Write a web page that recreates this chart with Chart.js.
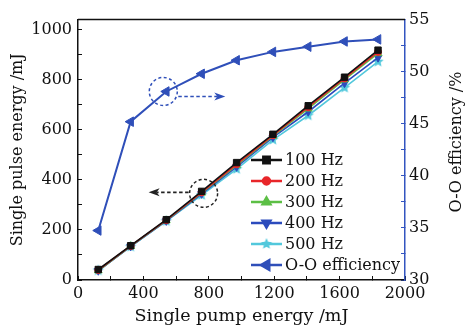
<!DOCTYPE html>
<html>
<head>
<meta charset="utf-8">
<script src="https://cdn.jsdelivr.net/npm/chart.js@4.4.1/dist/chart.umd.min.js"></script>
<style>
  body { margin: 0; background: #fff; }
  #wrap { width: 466px; height: 333px; }
</style>
</head>
<body>
<div id="wrap"><canvas id="chart"></canvas></div>
<script>
const pumpEnergy = [124, 322, 540, 756, 970, 1192, 1408, 1630, 1835];
const hz100 = [42, 137, 241, 354, 469, 582, 696, 810, 918];
const hz200 = [40, 136, 239, 350, 462, 578, 690, 805, 911];
const hz300 = [38, 135, 238, 348, 458, 575, 684, 800, 905];
const hz400 = [37, 134, 236, 344, 452, 570, 672, 786, 888];
const hz500 = [38, 133, 235, 339, 443, 560, 657, 768, 872];
const efficiency = [34.75, 45.2, 48.1, 49.8, 51.1, 51.9, 52.4, 52.9, 53.1];

const FONT = 'DejaVu Serif';
const BLUE = '#2f4fb9';

const pts = (ys) => ys.map((v, i) => ({ x: pumpEnergy[i], y: v }));

// filled five point star for the 500 Hz marker
function makeStar(color, r) {
    const c = document.createElement('canvas');
    const s = Math.ceil(r * 2 + 2);
    c.width = s;
    c.height = s;
    const g = c.getContext('2d');
    g.fillStyle = color;
    g.beginPath();
    for (let i = 0; i < 10; i++) {
        const rad = i % 2 ? r * 0.45 : r;
        const a = -Math.PI / 2 + i * Math.PI / 5;
        g.lineTo(s / 2 + rad * Math.cos(a), s / 2 + rad * Math.sin(a));
    }
    g.closePath();
    g.fill();
    return c;
}

function series(label, data, color, style, radius, rotation, axis) {
    return {
        label,
        data,
        borderColor: color,
        backgroundColor: color,
        pointBackgroundColor: color,
        pointBorderColor: color,
        pointStyle: style,
        pointRotation: rotation || 0,
        pointRadius: radius,
        borderWidth: axis === 'y2' ? 2 : 1.6,
        pointBorderWidth: 1,
        yAxisID: axis || 'y',
        tension: 0,
    };
}

function dashedCircle(ctx, x, y, r, color) {
    ctx.save();
    ctx.strokeStyle = color;
    ctx.lineWidth = 1.5;
    ctx.setLineDash([3, 2.5]);
    ctx.beginPath();
    ctx.arc(x, y, r, 0, Math.PI * 2);
    ctx.stroke();
    ctx.restore();
}

function dashedArrow(ctx, x1, y1, x2, y2, color) {
    const dir = Math.sign(x2 - x1);
    ctx.save();
    ctx.strokeStyle = color;
    ctx.fillStyle = color;
    ctx.lineWidth = 1.6;
    ctx.setLineDash([3.5, 2.5]);
    ctx.beginPath();
    ctx.moveTo(x1, y1);
    ctx.lineTo(x2 - dir * 8, y2);
    ctx.stroke();
    ctx.setLineDash([]);
    ctx.beginPath();
    ctx.moveTo(x2, y2);
    ctx.lineTo(x2 - dir * 11, y2 - 4);
    ctx.lineTo(x2 - dir * 8, y2);
    ctx.lineTo(x2 - dir * 11, y2 + 4);
    ctx.closePath();
    ctx.fill();
    ctx.restore();
}

const extras = {
    id: 'extras',
    afterDatasetsDraw(chart) {
        const { ctx, chartArea, scales: { x, y, y2 } } = chart;

        // top frame line
        ctx.save();
        ctx.strokeStyle = '#111';
        ctx.lineWidth = 1.5;
        ctx.beginPath();
        ctx.moveTo(chartArea.left, chartArea.top);
        ctx.lineTo(chartArea.right, chartArea.top);
        ctx.stroke();
        ctx.restore();

        // circle + arrow pointing at the efficiency axis
        const ex = x.getPixelForValue(pumpEnergy[2]) - 3;
        const ey = y2.getPixelForValue(efficiency[2]);
        dashedCircle(ctx, ex, ey, 14, BLUE);
        dashedArrow(ctx, ex + 15, ey + 5, ex + 62, ey + 5, BLUE);

        // circle + arrow pointing at the pulse energy axis
        const px = x.getPixelForValue(pumpEnergy[3]) + 2;
        const py = y.getPixelForValue(hz100[3]) + 2;
        dashedCircle(ctx, px, py, 14, '#222');
        dashedArrow(ctx, px - 15, py - 1, px - 55, py - 1, '#222');
    },
    afterDraw(chart) {
        const { ctx, chartArea } = chart;
        const draw = Chart.helpers && Chart.helpers.drawPoint;

        // legend inside the plot, lower right
        const x0 = chartArea.right - 154;
        let yy = chartArea.bottom - 15 - 5 * 21;
        ctx.save();
        ctx.font = `16px "${FONT}"`;
        ctx.textBaseline = 'middle';
        ctx.textAlign = 'left';
        chart.data.datasets.forEach((ds) => {
            ctx.strokeStyle = ds.borderColor;
            ctx.fillStyle = ds.backgroundColor;
            ctx.lineWidth = 2.5;
            ctx.beginPath();
            ctx.moveTo(x0, yy);
            ctx.lineTo(x0 + 31, yy);
            ctx.stroke();
            if (draw) {
                draw(ctx, { pointStyle: ds.pointStyle, rotation: ds.pointRotation, radius: ds.pointRadius, borderWidth: 1 }, x0 + 15.5, yy);
            }
            ctx.fillStyle = '#111';
            ctx.fillText(ds.label, x0 + 34, yy + 1);
            yy += 21;
        });

        // right axis title, reading bottom to top
        ctx.translate(chartArea.right + 52, 142);
        ctx.rotate(-Math.PI / 2);
        ctx.textAlign = 'center';
        ctx.fillText('O-O efficiency /%', 0, 0);
        ctx.restore();
    },
};

const tickFont = { family: FONT, size: 16 };

new Chart(document.getElementById('chart'), {
    type: 'line',
    data: {
        datasets: [
            series('100 Hz', pts(hz100), '#111111', 'rect', 4.5),
            series('200 Hz', pts(hz200), '#e8262a', 'circle', 3.5),
            series('300 Hz', pts(hz300), '#5cbf45', 'triangle', 4.5),
            series('400 Hz', pts(hz400), '#2b4bbd', 'triangle', 4.5, 180),
            series('500 Hz', pts(hz500), '#52c8dc', makeStar('#52c8dc', 6), 5),
            series('O-O efficiency', pts(efficiency), BLUE, 'triangle', 5.5, 270, 'y2'),
        ],
    },
    options: {
        responsive: true,
        maintainAspectRatio: false,
        animation: false,
        layout: { padding: { top: 14, left: 0, right: 0, bottom: 0 } },
        plugins: {
            legend: { display: false },
            tooltip: { enabled: false },
        },
        scales: {
            x: {
                type: 'linear',
                min: 0,
                max: 2000,
                afterFit: (s) => { s.height = 53; },
                border: { color: '#111', width: 1.5 },
                grid: { drawOnChartArea: false, tickLength: -4, tickColor: '#111' },
                ticks: {
                    stepSize: 200,
                    autoSkip: false,
                    maxRotation: 0,
                    padding: 8,
                    color: '#111',
                    font: tickFont,
                    callback: (v) => (v % 400 === 0 ? v : ''),
                },
                title: {
                    display: true,
                    text: 'Single pump energy /mJ',
                    color: '#111',
                    font: { family: FONT, size: 17.5 },
                    padding: { top: 0, bottom: 6 },
                },
            },
            y: {
                position: 'left',
                min: 0,
                max: 1040,
                afterFit: (s) => { s.width = 78; },
                border: { color: '#111', width: 1.5 },
                grid: { drawOnChartArea: false, tickLength: -4, tickColor: '#111' },
                ticks: {
                    stepSize: 100,
                    includeBounds: false,
                    autoSkip: false,
                    padding: 10,
                    color: '#111',
                    font: tickFont,
                    callback: (v) => (v % 200 === 0 ? v : ''),
                },
                title: {
                    display: true,
                    text: 'Single pulse energy /mJ',
                    color: '#111',
                    font: { family: FONT, size: 16 },
                    padding: { top: 8, bottom: 0 },
                },
            },
            y2: {
                position: 'right',
                min: 30,
                max: 55,
                afterFit: (s) => { s.width = 61; },
                border: { color: '#3355c0', width: 1.5 },
                grid: { drawOnChartArea: false, tickLength: -4, tickColor: '#3355c0' },
                ticks: {
                    stepSize: 2.5,
                    autoSkip: false,
                    padding: 8,
                    color: '#111',
                    font: tickFont,
                    callback: (v) => (v % 5 === 0 ? v : ''),
                },
            },
        },
    },
    plugins: [extras],
});
</script>
</body>
</html>
